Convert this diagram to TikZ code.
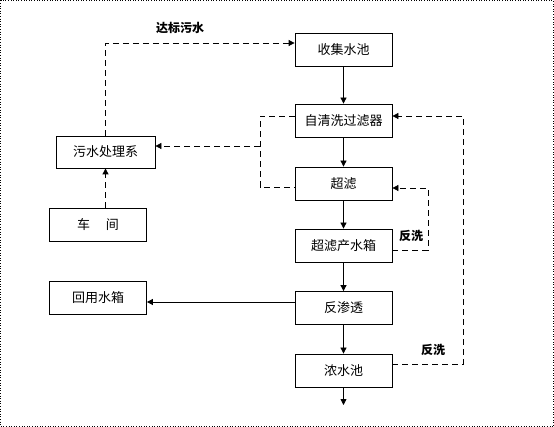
\documentclass[tikz,border=0pt]{standalone}
\usepackage{fontspec}
\setmainfont{Noto Sans CJK SC}
\usetikzlibrary{arrows.meta}

\tikzset{
  box/.style={draw, line width=0.8pt, minimum width=97pt, minimum height=33pt, inner sep=0pt, font=\fontsize{13}{15}\selectfont},
  flow/.style={line width=0.8pt, ->},
  back/.style={line width=0.8pt, dash pattern=on 6pt off 4pt},
  lbl/.style={font=\fontsize{12}{14}\selectfont\bfseries}
}

\begin{document}
\begin{tikzpicture}[x=1pt, y=-1pt, >={Triangle[length=6pt,width=6pt]}]
    \useasboundingbox (0,0) rectangle (554,427);
    % 外框
    \draw[dotted, line width=0.6pt] (0.5,0.5) rectangle (553.5,426.5);

    % 主流程
    \node[box] (shou) at (343.5,49.5) {收集水池};
    \node[box] (zqx)  at (343.5,120.5) {自清洗过滤器};
    \node[box] (cl)   at (343.5,183.5) {超滤};
    \node[box] (clcs) at (343.5,245.5) {超滤产水箱};
    \node[box] (fst)  at (343.5,308) {反渗透};
    \node[box] (nsc)  at (343.5,370.5) {浓水池};
    \coordinate (out) at (343.5,405);

    % 左侧
    \node[box, minimum width=99pt, minimum height=32pt] (wscl) at (105.5,152) {污水处理系};
    \node[box] (cj)   at (98,224.5) {车\hspace{1.2em}间};
    \node[box] (hysx) at (98,297.5) {回用水箱};

    \draw[flow] (shou) -- (zqx);
    \draw[flow] (zqx) -- (cl);
    \draw[flow] (cl) -- (clcs);
    \draw[flow] (clcs) -- (fst);
    \draw[flow] (fst) -- (nsc);
    \draw[flow] (nsc) -- (out);
    \draw[flow] ([yshift=6pt]fst.west) -- ([yshift=6pt]fst.west -| hysx.east);

    % 达标污水
    \draw[back, ->] (wscl.south |- cj.north) -- (wscl.south);
    \draw[back, ->] (wscl.north) |- ([yshift=6.5pt]shou.west);
    \node[lbl] (dbws) at (180,28) {达标污水};

    % 反冲洗排水
    \coordinate (xl) at (260,0);
    \draw[back] ([yshift=4.5pt]zqx.west) -| (xl |- 0,187) -- (cl.west |- 0,187);
    \draw[back, ->] (xl |- 0,146) -- (wscl.east |- 0,146);

    % 反洗
    \coordinate (xr) at (428,0);
    \draw[back, ->] (clcs.east |- 0,250) -| (xr |- 0,188) -- (cl.east |- 0,188);
    \node[lbl] (fx1) at (411,236) {反洗};

    \coordinate (xrr) at (463,0);
    \draw[back, ->] (nsc.east |- 0,364) -| (xrr |- 0,116) -- (zqx.east |- 0,116);
    \node[lbl] (fx2) at (433,350) {反洗};
\end{tikzpicture}
\end{document}
